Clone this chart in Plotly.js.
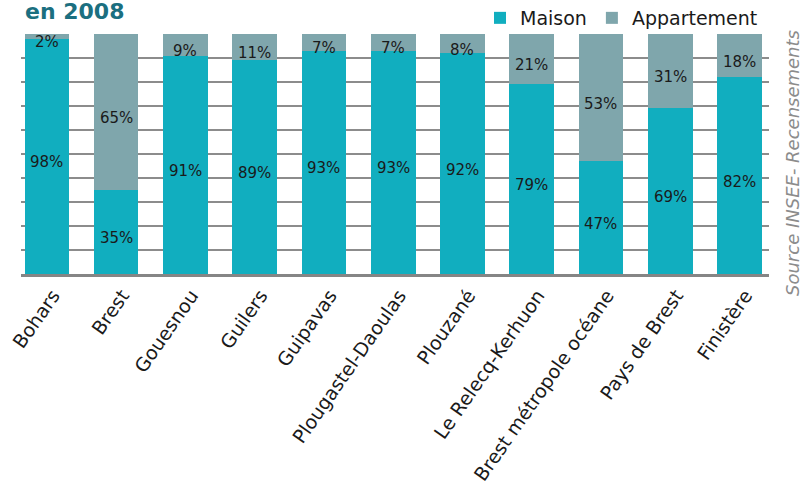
<!DOCTYPE html>
<html>
<head>
<meta charset="utf-8">
<script src="https://cdn.plot.ly/plotly-3.0.1.min.js"></script>
<style>html,body{margin:0;padding:0;background:#fff;}#chart{width:805px;height:486px;}</style>
</head>
<body>
<div id="chart"></div>
<script>
const categories = ["Bohars","Brest","Gouesnou","Guilers","Guipavas","Plougastel-Daoulas","Plouzané","Le Relecq-Kerhuon","Brest métropole océane","Pays de Brest","Finistère"];
const maison = [98,35,91,89,93,93,92,79,47,69,82];
const appartement = [2,65,9,11,7,7,8,21,53,31,18];
const seriesNames = ["Maison","Appartement"];
const titleText = "en 2008";
const sourceText = "Source INSEE- Recensements";

const FONT = "'DejaVu Sans', sans-serif";
const idx = categories.map((c,i)=>i);

const traces = [
  {type:'bar', name:seriesNames[0], x:idx, y:maison, marker:{color:'#11aebf'}, hoverinfo:'none'},
  {type:'bar', name:seriesNames[1], x:idx, y:appartement, marker:{color:'#7fa6ac'}, hoverinfo:'none'}
];

// value labels placed at the middle of each stacked segment (data coordinates)
const labelAnns = [];
idx.forEach(i => {
  labelAnns.push({x:i, y:maison[i]/2, xref:'x', yref:'y', text:maison[i]+'%', showarrow:false, yshift:-6,
    font:{family:FONT,size:15,color:'#1a1a1a'}});
  labelAnns.push({x:i, y:maison[i]+appartement[i]/2, xref:'x', yref:'y', text:appartement[i]+'%', showarrow:false, yshift:-6,
    font:{family:FONT,size:15,color:'#1a1a1a'}});
});

const layout = {
  width:805, height:486,
  margin:{l:21, r:36, t:34, b:212, pad:0, autoexpand:false},
  barmode:'stack', bargap:0.357,
  paper_bgcolor:'#fff', plot_bgcolor:'#fff',
  font:{family:FONT, size:17, color:'#1a1a1a'},
  showlegend:true,
  legend:{orientation:'h', x:(763-21)/748, xanchor:'right', y:1+(34-18)/240, yanchor:'middle', font:{family:FONT,size:19,color:'#1a1a1a'},
          itemwidth:30, tracegroupgap:0, traceorder:'normal', bgcolor:'rgba(0,0,0,0)', borderwidth:0},
  xaxis:{range:[-0.375,10.426], tickmode:'array', tickvals:idx, ticktext:categories, tickangle:-55,
         tickfont:{family:FONT,size:19,color:'#1a1a1a'}, showgrid:false, zeroline:false,
         ticklabeloverflow:'allow', ticklabelshift:6,
         showline:true, linecolor:'#858585', linewidth:3, ticks:'', fixedrange:true, automargin:false},
  yaxis:{range:[0,100], dtick:10, showticklabels:false, showgrid:true, gridcolor:'#8c8c8c', gridwidth:2,
         zeroline:false, showline:false, ticks:'', fixedrange:true, automargin:false},
  annotations:[
    {text:'<b>'+titleText+'</b>', xref:'paper', yref:'paper', x:(23-21)/748, y:1+(34-26)/240, xanchor:'left', yanchor:'bottom',
     showarrow:false, font:{family:FONT,size:22,color:'#1b6f80'}},
    {text:'<i>'+sourceText+'</i>', xref:'paper', yref:'paper', x:(792-21)/748, y:1-(163-34)/240, xanchor:'center', yanchor:'middle',
     textangle:-90, showarrow:false, font:{family:FONT,size:18,color:'#8c8c8c'}}
  ].concat(labelAnns)
};

Plotly.newPlot('chart', traces, layout, {displayModeBar:false, staticPlot:true});
</script>
</body>
</html>
